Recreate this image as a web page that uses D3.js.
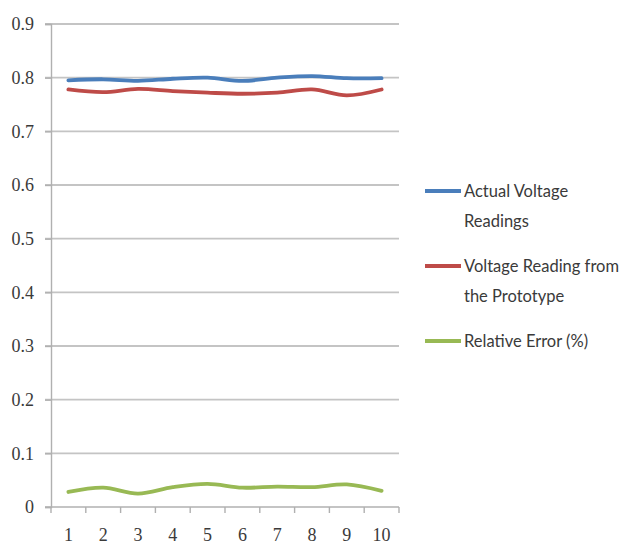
<!DOCTYPE html>
<html>
<head>
<meta charset="utf-8">
<script src="https://cdn.jsdelivr.net/npm/d3@7"></script>
<style>
  html, body { margin: 0; padding: 0; background: #fff; }
  svg { display: block; }
</style>
</head>
<body>
<svg id="chart" width="624" height="544"></svg>
<script>
// Readings per trial
const trials = [1, 2, 3, 4, 5, 6, 7, 8, 9, 10];
const actualVoltage = [0.795, 0.797, 0.794, 0.798, 0.800, 0.794, 0.800, 0.803, 0.799, 0.799];
const prototypeVoltage = [0.778, 0.773, 0.779, 0.775, 0.772, 0.770, 0.772, 0.778, 0.767, 0.778];
const relativeError = [0.028, 0.036, 0.025, 0.037, 0.043, 0.036, 0.038, 0.037, 0.042, 0.030];
const yTicks = [0, 0.1, 0.2, 0.3, 0.4, 0.5, 0.6, 0.7, 0.8, 0.9];

const seriesNames = [
  ["Actual Voltage", "Readings"],
  ["Voltage Reading from", "the Prototype"],
  ["Relative Error (%)"]
];
const seriesColors = ["#4a7ebb", "#be4b48", "#98b954"];
const seriesValues = [actualVoltage, prototypeVoltage, relativeError];

const svg = d3.select("#chart");
const plotLeft = 51, plotRight = 399, plotTop = 24, plotBottom = 507;
const serif = "'Liberation Serif', 'DejaVu Serif', serif";

const x = d3.scaleBand().domain(trials).range([plotLeft, plotRight]);
const y = d3.scaleLinear().domain([0, 0.9]).range([plotBottom, plotTop]);

// Horizontal gridlines
svg.append("g")
  .selectAll("line")
  .data(yTicks.filter(d => d > 0))
  .join("line")
  .attr("x1", plotLeft - 6).attr("x2", plotRight)
  .attr("y1", d => y(d)).attr("y2", d => y(d))
  .attr("stroke", "#c4c4c4").attr("stroke-width", 1.8);

// Y axis
const yAxis = svg.append("g")
  .attr("transform", `translate(${plotLeft},0)`)
  .call(d3.axisLeft(y).tickValues(yTicks).tickSize(6).tickPadding(11)
    .tickFormat(d => d === 0 ? "0" : d3.format(".1f")(d)));
yAxis.select(".domain").attr("stroke", "#b0b0b0").attr("stroke-width", 1.4);
yAxis.selectAll(".tick line").attr("stroke", "#b0b0b0").attr("stroke-width", 1.4);
yAxis.selectAll("text")
  .attr("font-family", serif)
  .attr("font-size", 18).attr("fill", "#3a3a3a");

// X axis (category ticks sit between categories)
const xAxisG = svg.append("g").attr("transform", `translate(0,${plotBottom})`);
xAxisG.append("line")
  .attr("x1", plotLeft - 6).attr("x2", plotRight)
  .attr("stroke", "#b0b0b0").attr("stroke-width", 1.6);
const boundaries = trials.map(t => x(t)).concat([plotRight]);
xAxisG.selectAll("line.tk")
  .data(boundaries)
  .join("line").attr("class", "tk")
  .attr("x1", d => d).attr("x2", d => d)
  .attr("y1", 0).attr("y2", 6)
  .attr("stroke", "#b0b0b0").attr("stroke-width", 1.4);
xAxisG.selectAll("text")
  .data(trials)
  .join("text")
  .attr("x", t => x(t) + x.bandwidth() / 2)
  .attr("y", 34)
  .attr("text-anchor", "middle")
  .attr("font-family", serif)
  .attr("font-size", 18).attr("fill", "#3a3a3a")
  .text(t => t);

// Smoothed series lines
const line = d3.line()
  .x((d, i) => x(trials[i]) + x.bandwidth() / 2)
  .y(d => y(d))
  .curve(d3.curveCatmullRom.alpha(0.5));

svg.append("g")
  .selectAll("path")
  .data(seriesValues)
  .join("path")
  .attr("d", d => line(d))
  .attr("fill", "none")
  .attr("stroke", (d, i) => seriesColors[i])
  .attr("stroke-width", 3.8)
  .attr("stroke-linecap", "round")
  .attr("stroke-linejoin", "round");

// Legend
const legendY = [191, 266, 341];
const legend = svg.append("g");
seriesNames.forEach((lines, i) => {
  const g = legend.append("g").attr("transform", `translate(425,${legendY[i]})`);
  g.append("line")
    .attr("x1", 0).attr("x2", 36)
    .attr("stroke", seriesColors[i]).attr("stroke-width", 3.8);
  const t = g.append("text")
    .attr("x", 39).attr("y", 6)
    .attr("font-family", "Lato, 'Open Sans', sans-serif")
    .attr("font-size", 16.5).attr("fill", "#3a3a3a");
  lines.forEach((s, j) => {
    t.append("tspan").attr("x", 39).attr("dy", j === 0 ? 0 : 30).text(s);
  });
});
</script>
</body>
</html>
